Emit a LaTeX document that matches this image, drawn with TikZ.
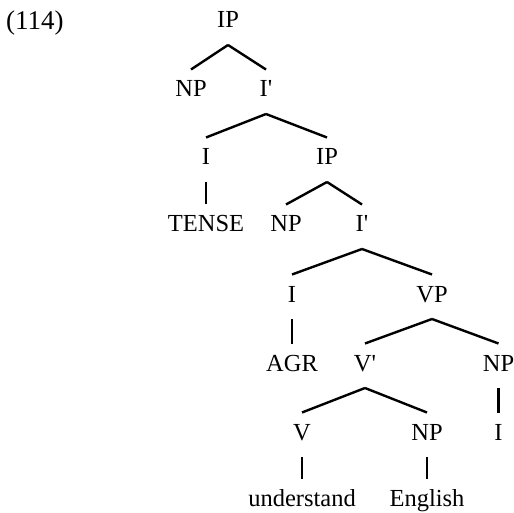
\documentclass[tikz,border=0pt]{standalone}
\usepackage{fontspec}
\setmainfont{Liberation Serif}
\begin{document}
\begin{tikzpicture}[x=1pt,y=-1pt,
  cat/.style={anchor=base,inner sep=0pt,font=\fontsize{24.5}{29}\selectfont},
  branchline/.style={line width=2.4pt}]
\useasboundingbox (0,0) rectangle (514,513);
% example number
\node[anchor=base west,inner sep=0pt,font=\fontsize{27}{32}\selectfont] (num) at (6,30) {(114)};
% tree nodes
\node[cat] (ip1)  at (228,28)  {IP};
\node[cat] (np1)  at (191,97)  {NP};
\node[cat] (ib1)  at (266,97)  {I\textquotesingle};
\node[cat] (i1)   at (206,165) {I};
\node[cat] (ip2)  at (327,165) {IP};
\node[cat] (tense) at (206,232) {TENSE};
\node[cat] (np2)  at (286,232) {NP};
\node[cat] (ib2)  at (362,232) {I\textquotesingle};
\node[cat] (i2)   at (292,302) {I};
\node[cat] (vp)   at (432,302) {VP};
\node[cat] (agr)  at (292,371) {AGR};
\node[cat] (vb)   at (365,371) {V\textquotesingle};
\node[cat] (np3)  at (498.5,371) {NP};
\node[cat] (v)    at (302,440) {V};
\node[cat] (np4)  at (427,440) {NP};
\node[cat] (i3)   at (498.5,440) {I};
\node[cat] (und)  at (302,506) {understand};
\node[cat] (eng)  at (427,506) {English};
% branches: from just below the mother's baseline to just above the daughter
\newcommand\branchto[2]{\draw[branchline] ([yshift=-17pt]#1.base) -- ([yshift=27.5pt]#2.base);}
\branchto{ip1}{np1}\branchto{ip1}{ib1}
\branchto{ib1}{i1}\branchto{ib1}{ip2}
\branchto{i1}{tense}
\branchto{ip2}{np2}\branchto{ip2}{ib2}
\branchto{ib2}{i2}\branchto{ib2}{vp}
\branchto{i2}{agr}
\branchto{vp}{vb}\branchto{vp}{np3}
\branchto{vb}{v}\branchto{vb}{np4}
\branchto{np3}{i3}
\branchto{v}{und}\branchto{np4}{eng}
\end{tikzpicture}
\end{document}
